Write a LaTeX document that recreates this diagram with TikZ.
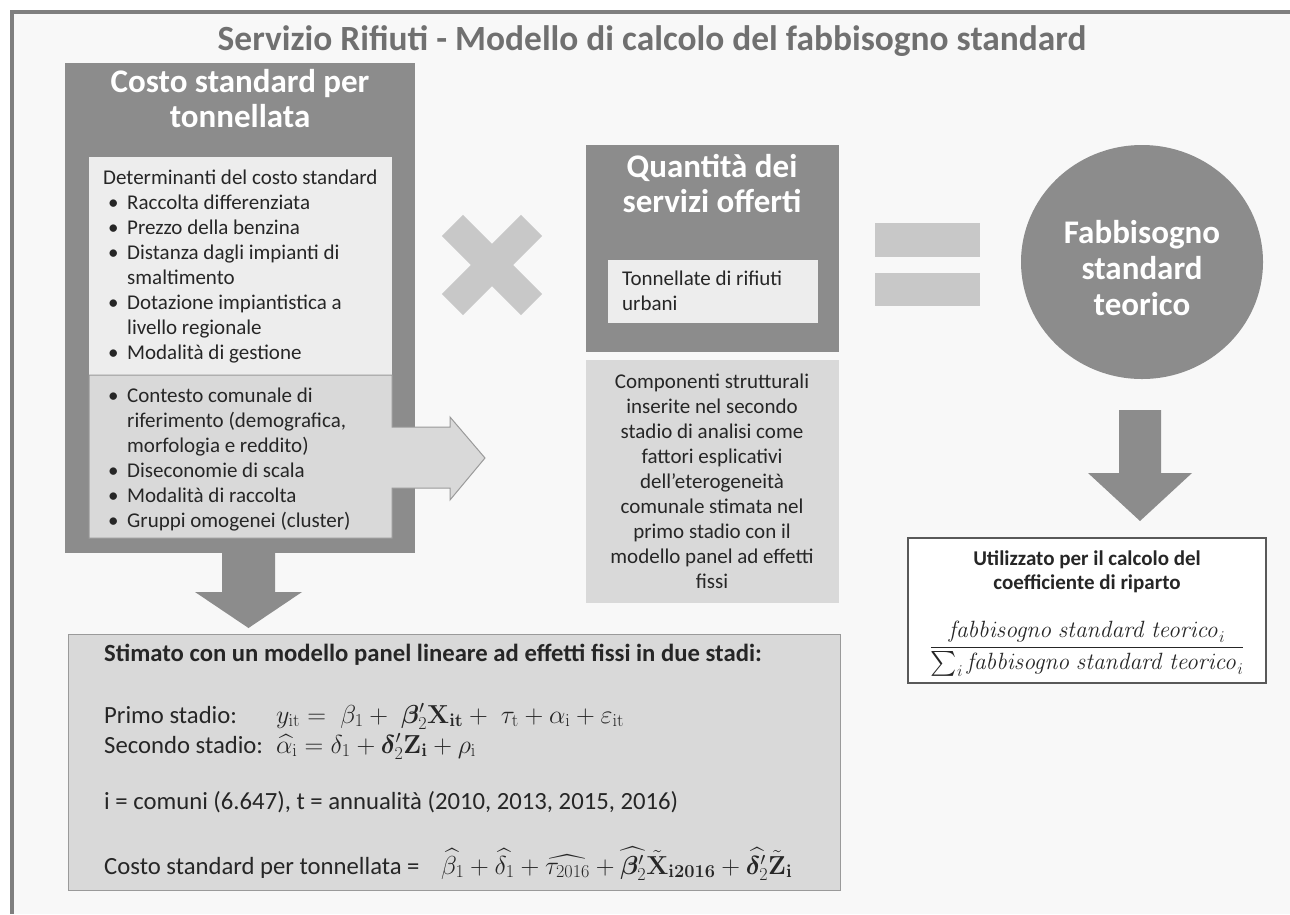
\RequirePackage{fix-cm}
\documentclass[tikz,border=0pt]{standalone}
\usepackage[no-math]{fontspec}
\setmainfont{Carlito}
\usepackage{amsmath}
\usepackage{bm}
\usetikzlibrary{shapes.geometric}
\definecolor{framegray}{HTML}{7F7F7F}
\definecolor{boxdark}{HTML}{8C8C8C}
\definecolor{boxlight}{HTML}{EDEDED}
\definecolor{boxmid}{HTML}{D9D9D9}
\definecolor{symgray}{HTML}{C8C8C8}
\definecolor{bggray}{HTML}{F8F8F8}
\definecolor{titlegray}{HTML}{707070}
\definecolor{textdark}{HTML}{262626}
\definecolor{edgegray}{HTML}{9A9A9A}
\newcommand{\mybul}{\makebox[24pt][l]{\hspace{5pt}\textbullet}}
\newcommand{\myind}{\hspace*{24pt}}
\begin{document}
\begin{tikzpicture}[x=1pt,y=-1pt,
  box/.style={draw=none, inner sep=0, outer sep=0, anchor=north west},
  bodytxt/.style={anchor=base west, inner sep=0, text=textdark, font=\fontsize{21}{25}\selectfont},
  ctrtxt/.style={anchor=base, inner sep=0, text=textdark, font=\fontsize{21}{25}\selectfont},
  headtxt/.style={anchor=base, inner sep=0, text=white, font=\fontsize{33}{38}\selectfont\bfseries},
  utiltxt/.style={anchor=base, inner sep=0, text=textdark, font=\fontsize{21}{25}\selectfont\bfseries},
  lowtxt/.style={anchor=base west, inner sep=0, text=textdark, font=\fontsize{24.7}{29}\selectfont},
  mathtxt/.style={anchor=base west, inner sep=0, text=textdark, font=\fontsize{26}{30}\selectfont},
  blockarrow/.style={fill=boxdark, draw=none},
  symbol/.style={fill=symgray, draw=none}
]
\useasboundingbox (0,0) rectangle (1290,914);
\fill[white] (0,0) rectangle (1290,914);
\fill[bggray] (12,12) rectangle (1290,914);
\draw[framegray, line width=4pt] (1290,12) -- (12,12) -- (12,914);

% title
\node[anchor=base, inner sep=0, text=titlegray, font=\fontsize{35.4}{40}\selectfont\bfseries] (title) at (652,50) {Servizio Rifiuti - Modello di calcolo del fabbisogno standard};

% left block
\node[box, fill=boxdark, minimum width=350pt, minimum height=490pt] (costo) at (65,63) {};
\node[headtxt] (costoA) at (240,92) {Costo standard per};
\node[headtxt] (costoB) at (240,127) {tonnellata};
\node[box, fill=boxlight, minimum width=303pt, minimum height=218pt] (det) at (89,157) {};
\path[fill=boxmid, draw=edgegray, line width=1pt] (89,375) -- (392,375) -- (392,427) -- (450,427) -- (450,417) -- (485,458) -- (450,500) -- (450,488) -- (392,488) -- (392,538) -- (89,538) -- cycle;
\coordinate (rtip) at (485,458);

\foreach \t [count=\i] in {{Determinanti del costo standard},{\mybul Raccolta differenziata},{\mybul Prezzo della benzina},{\mybul Distanza dagli impianti di},{\myind smaltimento},{\mybul Dotazione impiantistica a},{\myind livello regionale},{\mybul Modalità di gestione}}
  \node[bodytxt, name=detl\i] at (103,{184+25*(\i-1)}) {\t};

\foreach \t [count=\i] in {{\mybul Contesto comunale di},{\myind riferimento (demografica,},{\myind morfologia e reddito)},{\mybul Diseconomie di scala},{\mybul Modalità di raccolta},{\mybul Gruppi omogenei (cluster)}}
  \node[bodytxt, name=ctxl\i] at (103,{402+25*(\i-1)}) {\t};

% down arrow under left block
\fill[blockarrow] (222,553) -- (275,553) -- (275,592) -- (302,592) -- (248.5,628) -- (195,592) -- (222,592) -- cycle;

% multiplication sign
\fill[symbol, rotate around={45:(492,265)}] (436,250) rectangle (548,280);
\fill[symbol, rotate around={-45:(492,265)}] (436,250) rectangle (548,280);

% middle block
\node[box, fill=boxdark, minimum width=253pt, minimum height=207pt] (quant) at (586,145) {};
\node[headtxt] (quantA) at (712,177) {Quantità dei};
\node[headtxt] (quantB) at (712,212) {servizi offerti};
\node[box, fill=boxlight, minimum width=210pt, minimum height=63pt] (tonn) at (608,260) {};
\node[bodytxt] (tonnA) at (622,285) {Tonnellate di rifiuti};
\node[bodytxt] (tonnB) at (622,310) {urbani};

\node[box, fill=boxmid, minimum width=253pt, minimum height=243pt] (comp) at (586,360) {};
\foreach \t [count=\i] in {{Componenti strutturali},{inserite nel secondo},{stadio di analisi come},{fattori esplicativi},{dell’eterogeneità},{comunale stimata nel},{primo stadio con il},{modello panel ad effetti},{fissi}}
  \node[ctrtxt, name=compl\i] at (712,{388+25.1*(\i-1)}) {\t};

% equals sign
\fill[symbol] (875,223) rectangle (980,257);
\fill[symbol] (875,273) rectangle (980,306);

% circle
\node[ellipse, fill=boxdark, draw=none, inner sep=0, minimum width=242pt, minimum height=234pt] (fabb) at (1142,262) {};
\node[headtxt] (fabbA) at (1142,243) {Fabbisogno};
\node[headtxt] (fabbB) at (1142,279) {standard};
\node[headtxt] (fabbC) at (1142,315) {teorico};

% down arrow under circle
\fill[blockarrow] (1119,410) -- (1161,410) -- (1161,473) -- (1192,473) -- (1140,521) -- (1088,473) -- (1119,473) -- cycle;

% util box
\node[box, fill=white, draw=black!65, line width=1.8pt, minimum width=358pt, minimum height=145pt] (util) at (908,538) {};
\node[utiltxt] (utilA) at (1087,565) {Utilizzato per il calcolo del};
\node[utiltxt] (utilB) at (1087,589) {coefficiente di riparto};
\node[inner sep=0, text=textdark, font=\fontsize{23.5}{28}\selectfont] (frac) at (1087,649)
  {$\displaystyle\frac{\mathit{fabbisogno\ standard\ teorico}_i}{\sum_i \mathit{fabbisogno\ standard\ teorico}_i}$};

% bottom box
\node[box, fill=boxmid, draw=edgegray, line width=1pt, minimum width=772pt, minimum height=256pt] (stima) at (68,634) {};
\node[lowtxt, font=\fontsize{24.7}{29}\selectfont\bfseries] (st1) at (104,661) {Stimato con un modello panel lineare ad effetti fissi in due stadi:};
\node[lowtxt] (st2) at (104,723) {Primo stadio:};
\node[mathtxt] (st2m) at (276,723) {$y_{\mathrm{it}} =\; \beta_1 +\; \bm{\beta}_2'\mathbf{X}_{\mathbf{it}} +\; \tau_{\mathrm{t}} + \alpha_{\mathrm{i}} + \varepsilon_{\mathrm{it}}$};
\node[lowtxt] (st3) at (104,753) {Secondo stadio:};
\node[mathtxt] (st3m) at (276,753) {$\widehat{\alpha_{\mathrm{i}}} = \delta_1 + \bm{\delta}_2'\mathbf{Z}_{\mathbf{i}} + \rho_{\mathrm{i}}$};
\node[lowtxt] (st4) at (104,809) {i = comuni (6.647), t = annualità (2010, 2013, 2015, 2016)};
\node[lowtxt] (st5) at (104,874) {Costo standard per tonnellata =};
\node[mathtxt] (st5m) at (441,874) {$\widehat{\beta_1} + \widehat{\delta_1} + \widehat{\tau_{2016}} + \widehat{\bm{\beta}_2'}\tilde{\mathbf{X}}_{\mathbf{i2016}} + \widehat{\bm{\delta}_2'}\tilde{\mathbf{Z}}_{\mathbf{i}}$};
\end{tikzpicture}
\end{document}
